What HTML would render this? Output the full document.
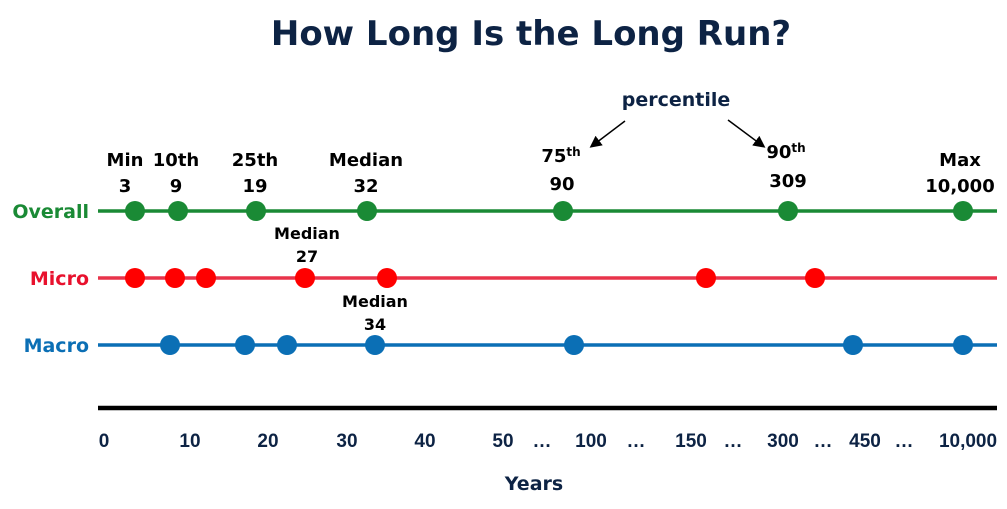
<!DOCTYPE html>
<html><head><style>body{margin:0;background:#fff}svg{display:block}text{font-family:"DejaVu Sans","Liberation Sans",sans-serif;font-weight:bold}.t text{font-family:"Liberation Sans",sans-serif}</style></head><body>
<svg width="1007" height="509" xmlns="http://www.w3.org/2000/svg">
<defs><marker id="ah" markerWidth="8" markerHeight="8" refX="6" refY="4" orient="auto"><path d="M0,0 L8,4 L0,8 z" fill="#000"/></marker></defs>
<text x="531" y="45" font-size="34" text-anchor="middle" fill="#0d2344">How Long Is the Long Run?</text>
<text x="676" y="106" font-size="19" text-anchor="middle" fill="#0d2344">percentile</text>
<line x1="625" y1="121" x2="592" y2="146" stroke="#000" stroke-width="1.5" marker-end="url(#ah)"/>
<line x1="728" y1="120" x2="763" y2="146" stroke="#000" stroke-width="1.5" marker-end="url(#ah)"/>
<g font-size="18" text-anchor="middle" fill="#000">
<text x="125" y="166">Min</text><text x="125" y="192">3</text>
<text x="176" y="166">10th</text><text x="176" y="192">9</text>
<text x="255" y="166">25th</text><text x="255" y="192">19</text>
<text x="366" y="166">Median</text><text x="366" y="192">32</text>
<text x="561" y="162">75<tspan font-size="12" dy="-6">th</tspan></text><text x="562" y="190">90</text>
<text x="786" y="158">90<tspan font-size="12" dy="-6">th</tspan></text><text x="788" y="187">309</text>
<text x="960" y="166">Max</text><text x="960" y="192">10,000</text>
</g>
<g font-size="16" text-anchor="middle" fill="#000">
<text x="307" y="239">Median</text><text x="307" y="262">27</text>
<text x="375" y="307">Median</text><text x="375" y="330">34</text>
</g>
<g font-size="19" text-anchor="end">
<text x="89" y="218" fill="#1a8a35">Overall</text>
<text x="89" y="285" fill="#e8112d">Micro</text>
<text x="89" y="352" fill="#0b6fb5">Macro</text>
</g>
<line x1="98" y1="211" x2="997" y2="211" stroke="#1a8a35" stroke-width="3.5"/>
<line x1="98" y1="278" x2="997" y2="278" stroke="#e8334a" stroke-width="3.5"/>
<line x1="98" y1="345" x2="997" y2="345" stroke="#0b6fb5" stroke-width="3.5"/>
<g fill="#1a8a35"><circle cx="135" cy="211" r="10"/><circle cx="178" cy="211" r="10"/><circle cx="256" cy="211" r="10"/><circle cx="367" cy="211" r="10"/><circle cx="563" cy="211" r="10"/><circle cx="788" cy="211" r="10"/><circle cx="963" cy="211" r="10"/></g>
<g fill="#ff0000"><circle cx="135" cy="278" r="10"/><circle cx="175" cy="278" r="10"/><circle cx="206" cy="278" r="10"/><circle cx="305" cy="278" r="10"/><circle cx="387" cy="278" r="10"/><circle cx="706" cy="278" r="10"/><circle cx="815" cy="278" r="10"/></g>
<g fill="#0b6fb5"><circle cx="170" cy="345" r="10"/><circle cx="245" cy="345" r="10"/><circle cx="287" cy="345" r="10"/><circle cx="375" cy="345" r="10"/><circle cx="574" cy="345" r="10"/><circle cx="853" cy="345" r="10"/><circle cx="963" cy="345" r="10"/></g>
<line x1="98" y1="408" x2="997" y2="408" stroke="#000" stroke-width="4.5"/>
<g class="t" font-size="19" text-anchor="middle" fill="#0d2344">
<text x="104" y="447">0</text><text x="190" y="447">10</text><text x="268" y="447">20</text><text x="347" y="447">30</text><text x="425" y="447">40</text><text x="503" y="447">50</text><text x="542" y="447">…</text><text x="591" y="447">100</text><text x="636" y="447">…</text><text x="691" y="447">150</text><text x="733" y="447">…</text><text x="783" y="447">300</text><text x="823" y="447">…</text><text x="865" y="447">450</text><text x="904" y="447">…</text><text x="968" y="447">10,000</text>
</g>
<text x="534" y="490" font-size="19" text-anchor="middle" fill="#0d2344">Years</text>
</svg>
</body></html>
